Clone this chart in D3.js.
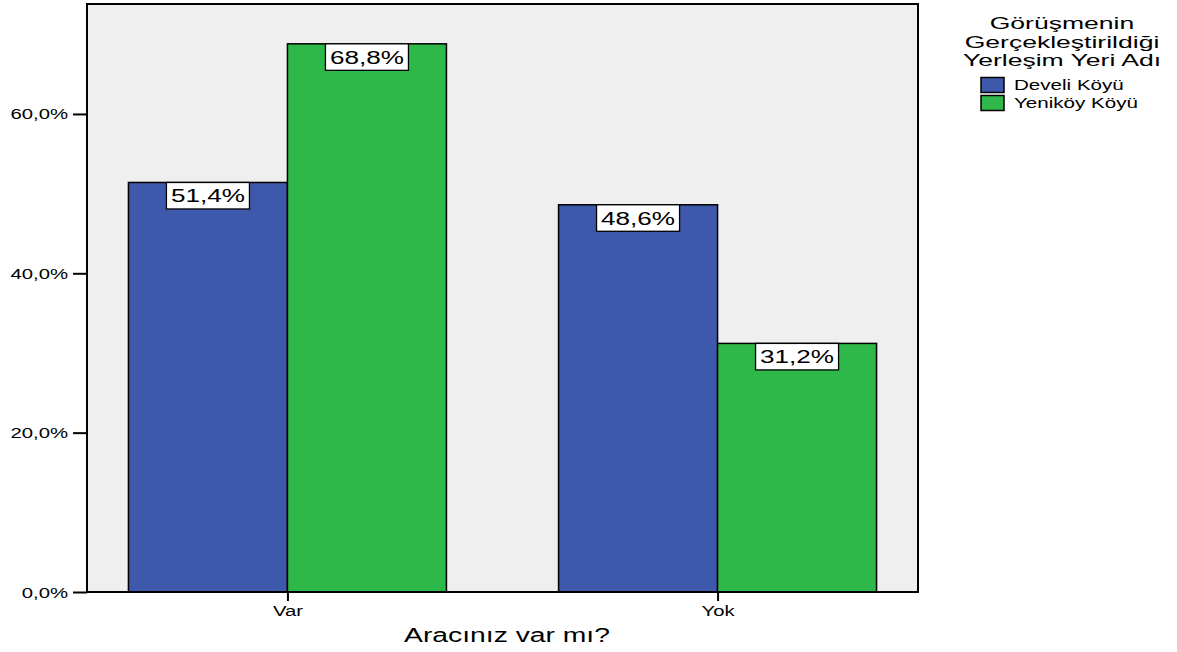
<!DOCTYPE html>
<html><head><meta charset="utf-8">
<script src="https://cdn.jsdelivr.net/npm/d3@7"></script>
<style>html,body{margin:0;padding:0;background:#fff}svg{display:block}text{font-family:Arial,"Liberation Sans",sans-serif;fill:#000}</style>
</head><body>
<script>
const categories = ["Var", "Yok"];
const seriesNames = ["Develi Köyü", "Yeniköy Köyü"];
const develiValues = [51.4, 48.6];
const yenikoyValues = [68.8, 31.2];
const yTicks = [0, 20, 40, 60];
const labels = [["51,4%", "48,6%"], ["68,8%", "31,2%"]];
const colors = ["#3E58AC", "#2EB84A"];
const legendTitle = ["Görüşmenin", "Gerçekleştirildiği", "Yerleşim Yeri Adı"];
const xTitle = "Aracınız var mı?";

const W = 1177, H = 652, SX = 1.45;
const L = 87, R = 918, T = 4, B = 592;
const svg = d3.select("body").append("svg").attr("width", W).attr("height", H);

function stretch(sel, k) {
  k = k || SX;
  sel.each(function() {
    const n = this.getComputedTextLength();
    d3.select(this).attr("textLength", n * k).attr("lengthAdjust", "spacingAndGlyphs");
  });
  return sel;
}

const y = d3.scaleLinear().domain([0, 73.8]).range([B, T]);
const x = d3.scalePoint().domain(categories).range([L, R]).padding(0.466);
const barW = 159;
const series = [develiValues, yenikoyValues];

svg.append("rect").attr("x", L).attr("y", T).attr("width", R - L).attr("height", B - T)
  .attr("fill", "#EFEFEF");

series.forEach((vals, s) => {
  categories.forEach((c, i) => {
    const x0 = x(c) + (s === 0 ? -barW : 0);
    svg.append("rect").attr("x", x0).attr("y", y(vals[i])).attr("width", barW)
      .attr("height", y(0) - y(vals[i])).attr("fill", colors[s])
      .attr("stroke", "#000").attr("stroke-width", 1.5);
  });
});

// value labels
series.forEach((vals, s) => {
  categories.forEach((c, i) => {
    const cx = x(c) + (s === 0 ? -barW / 2 : barW / 2);
    const top = y(vals[i]);
    const g = svg.append("g");
    const t = g.append("text").attr("x", cx).attr("y", top + 20).attr("text-anchor", "middle")
      .attr("font-size", 18).text(labels[s][i]);
    const w = t.node().getComputedTextLength() * SX;
    t.attr("textLength", w).attr("lengthAdjust", "spacingAndGlyphs");
    g.insert("rect", "text").attr("x", cx - w / 2 - 4.5).attr("y", top).attr("width", w + 9)
      .attr("height", 26.5).attr("fill", "#fff").attr("stroke", "#000").attr("stroke-width", 1.3);
  });
});

// frame
svg.append("rect").attr("x", L).attr("y", T).attr("width", R - L).attr("height", B - T)
  .attr("fill", "none").attr("stroke", "#000").attr("stroke-width", 2);

// y axis
const yAxis = svg.append("g").attr("transform", `translate(${L},0)`)
  .call(d3.axisLeft(y).tickValues(yTicks).tickSize(14).tickPadding(5)
    .tickFormat(d => d.toFixed(1).replace(".", ",") + "%"));
yAxis.select(".domain").remove();
yAxis.selectAll("line").attr("stroke", "#000").attr("stroke-width", 2);
yAxis.selectAll("text").attr("font-size", 14).attr("font-family", "Arial, 'Liberation Sans', sans-serif")
  .attr("dy", "0.36em").each(function() {
    const n = this.getComputedTextLength();
    d3.select(this).attr("textLength", n * SX).attr("lengthAdjust", "spacingAndGlyphs");
  });

// x axis
const xAxis = svg.append("g").attr("transform", `translate(0,${B})`)
  .call(d3.axisBottom(x).tickSize(9).tickPadding(5));
xAxis.select(".domain").remove();
xAxis.selectAll("line").attr("stroke", "#000").attr("stroke-width", 2);
xAxis.selectAll("text").attr("font-size", 14).attr("font-family", "Arial, 'Liberation Sans', sans-serif")
  .attr("dy", "0.71em").each(function() {
    const n = this.getComputedTextLength();
    d3.select(this).attr("textLength", n * SX).attr("lengthAdjust", "spacingAndGlyphs");
  });

// x title
stretch(svg.append("text").attr("x", 507).attr("y", 642).attr("text-anchor", "middle")
  .attr("font-size", 19.5).text(xTitle));

// legend
legendTitle.forEach((line, i) => {
  stretch(svg.append("text").attr("x", 1062).attr("y", 29 + i * 18.5).attr("text-anchor", "middle")
    .attr("font-size", 16).text(line), SX * 18.3 / 16);
});
seriesNames.forEach((n, i) => {
  const yy = 77.5 + i * 18;
  svg.append("rect").attr("x", 981).attr("y", yy).attr("width", 23).attr("height", 15)
    .attr("fill", colors[i]).attr("stroke", "#000").attr("stroke-width", 1.5);
  stretch(svg.append("text").attr("x", 1014).attr("y", yy + 12.5).attr("font-size", 14.2).text(n));
});
</script>
</body></html>
